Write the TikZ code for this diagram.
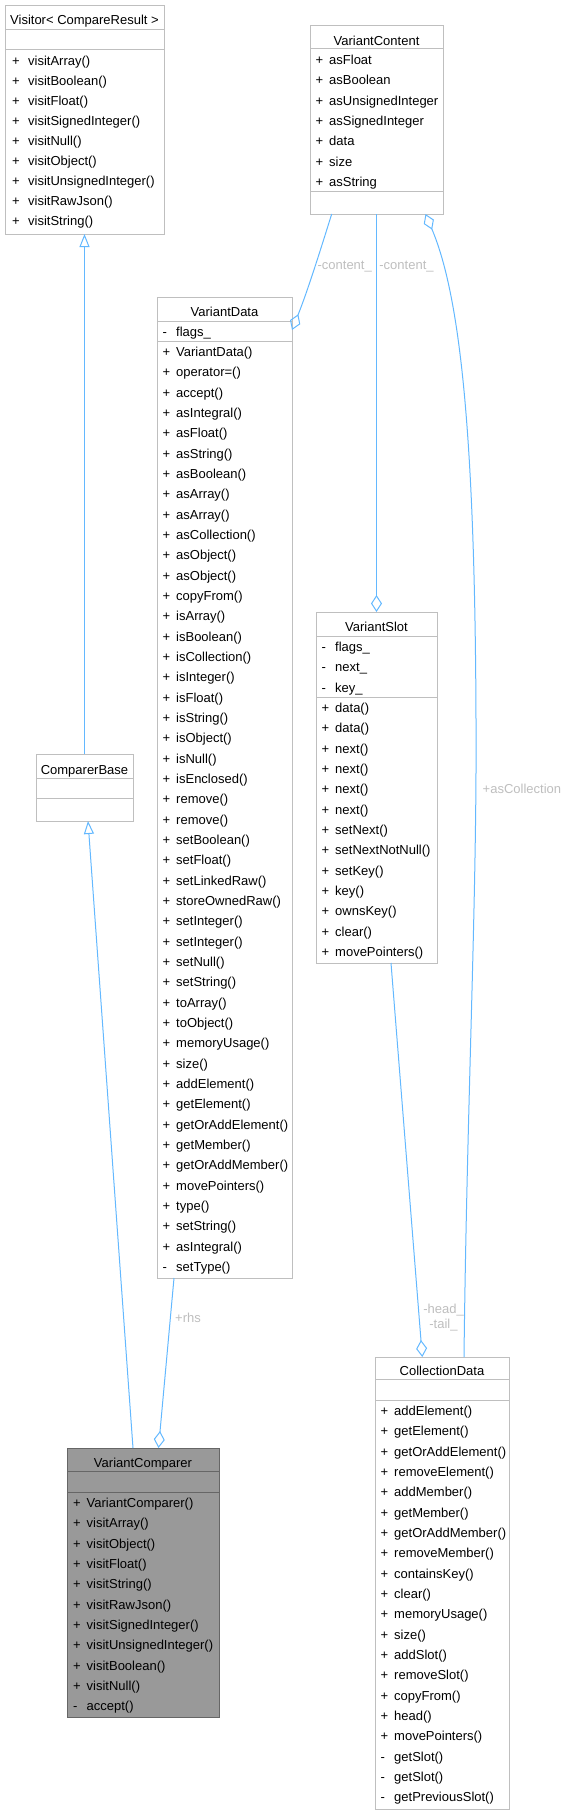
\documentclass[tikz,border=0pt]{standalone}
\usepackage{fontspec}
\setmainfont{Liberation Sans}
\usetikzlibrary{arrows.meta,calc}
\definecolor{boxline}{HTML}{BFBFBF}
\definecolor{edgecol}{HTML}{63B8FF}
\definecolor{lblcol}{HTML}{BEBEBE}
\definecolor{hifill}{HTML}{999999}
\definecolor{hiline}{HTML}{666666}
\begin{document}
\begin{tikzpicture}[x=1pt,y=-1pt,
  umlbox/.style={draw=boxline, line width=1pt, fill=white, inner sep=0pt, outer sep=0pt, anchor=north west},
  hibox/.style={umlbox, draw=hiline, fill=hifill},
  divider/.style={draw=boxline, line width=1pt},
  hidivider/.style={draw=hiline, line width=1pt},
  rowtxt/.style={inner sep=0pt, anchor=base west, font=\fontsize{13}{15}\selectfont},
  titletxt/.style={inner sep=0pt, anchor=base, font=\fontsize{13}{15}\selectfont},
  lbltxt/.style={inner sep=0pt, text=lblcol, font=\fontsize{13}{15}\selectfont, align=center},
  inh/.style={draw=edgecol, line width=1pt, -{Triangle[open, length=13pt, width=10pt]}},
  agg/.style={draw=edgecol, line width=1pt, -{Diamond[open, length=17pt, width=11pt]}},
]
\useasboundingbox (0,0) rectangle (565,1815);

% ---------- Visitor< CompareResult >
\node[umlbox, minimum width=159pt, minimum height=229pt] (visitor) at (5,5) {};
\draw[divider] (5,29) -- (164,29);
\draw[divider] (5,49) -- (164,49);
\node[titletxt] (visitor-t) at (84.5,24) {Visitor< CompareResult >};
\foreach \s/\t [count=\i from 0] in {+/visitArray(), +/visitBoolean(), +/visitFloat(), +/visitSignedInteger(), +/visitNull(), +/visitObject(), +/visitUnsignedInteger(), +/visitRawJson(), +/visitString()}
  \node[rowtxt] (vis\i) at (12,{65.5+20*\i}) {\makebox[16pt][l]{\s}\t};

% ---------- VariantContent
\node[umlbox, minimum width=133pt, minimum height=189pt] (vcont) at (310,25) {};
\draw[divider] (310,48.5) -- (443,48.5);
\draw[divider] (310,191) -- (443,191);
\node[titletxt] (vcont-t) at (376.5,45) {VariantContent};
\foreach \s/\t [count=\i from 0] in {+/asFloat, +/asBoolean, +/asUnsignedInteger, +/asSignedInteger, +/data, +/size, +/asString}
  \node[rowtxt] (vc\i) at (315.5,{64.5+20.33*\i}) {\makebox[13.5pt][l]{\s}\t};

% ---------- VariantData
\node[umlbox, minimum width=135pt, minimum height=981pt] (vdata) at (157,297) {};
\draw[divider] (157,321) -- (292,321);
\draw[divider] (157,341) -- (292,341);
\node[titletxt] (vdata-t) at (224.5,316) {VariantData};
\node[rowtxt] (vd-a0) at (162.5,336.5) {\makebox[13.5pt][l]{-}flags\_};
\foreach \s/\t [count=\i from 0] in {+/VariantData(), +/operator=(), +/accept(), +/asIntegral(), +/asFloat(), +/asString(), +/asBoolean(), +/asArray(), +/asArray(), +/asCollection(), +/asObject(), +/asObject(), +/copyFrom(), +/isArray(), +/isBoolean(), +/isCollection(), +/isInteger(), +/isFloat(), +/isString(), +/isObject(), +/isNull(), +/isEnclosed(), +/remove(), +/remove(), +/setBoolean(), +/setFloat(), +/setLinkedRaw(), +/storeOwnedRaw(), +/setInteger(), +/setInteger(), +/setNull(), +/setString(), +/toArray(), +/toObject(), +/memoryUsage(), +/size(), +/addElement(), +/getElement(), +/getOrAddElement(), +/getMember(), +/getOrAddMember(), +/movePointers(), +/type(), +/setString(), +/asIntegral(), -/setType()}
  \node[rowtxt] (vd\i) at (162.5,{356.5+20.33*\i}) {\makebox[13.5pt][l]{\s}\t};

% ---------- ComparerBase
\node[umlbox, minimum width=97pt, minimum height=67pt] (cbase) at (36,754) {};
\draw[divider] (36,778) -- (133,778);
\draw[divider] (36,798) -- (133,798);
\node[titletxt] (cbase-t) at (84.5,774) {ComparerBase};

% ---------- VariantSlot
\node[umlbox, minimum width=121pt, minimum height=351pt] (vslot) at (316,612) {};
\draw[divider] (316,636) -- (437,636);
\draw[divider] (316,697) -- (437,697);
\node[titletxt] (vslot-t) at (376.5,631) {VariantSlot};
\foreach \s/\t [count=\i from 0] in {-/flags\_, -/next\_, -/key\_}
  \node[rowtxt] (vsa\i) at (321.5,{651.5+20.33*\i}) {\makebox[13.5pt][l]{\s}\t};
\foreach \s/\t [count=\i from 0] in {+/data(), +/data(), +/next(), +/next(), +/next(), +/next(), +/setNext(), +/setNextNotNull(), +/setKey(), +/key(), +/ownsKey(), +/clear(), +/movePointers()}
  \node[rowtxt] (vs\i) at (321.5,{712.5+20.33*\i}) {\makebox[13.5pt][l]{\s}\t};

% ---------- CollectionData
\node[umlbox, minimum width=134pt, minimum height=452pt] (cdata) at (375,1357) {};
\draw[divider] (375,1379) -- (509,1379);
\draw[divider] (375,1400) -- (509,1400);
\node[titletxt] (cdata-t) at (442,1375.5) {CollectionData};
\foreach \s/\t [count=\i from 0] in {+/addElement(), +/getElement(), +/getOrAddElement(), +/removeElement(), +/addMember(), +/getMember(), +/getOrAddMember(), +/removeMember(), +/containsKey(), +/clear(), +/memoryUsage(), +/size(), +/addSlot(), +/removeSlot(), +/copyFrom(), +/head(), +/movePointers(), -/getSlot(), -/getSlot(), -/getPreviousSlot()}
  \node[rowtxt] (cd\i) at (380.5,{1415.5+20.33*\i}) {\makebox[13.5pt][l]{\s}\t};

% ---------- VariantComparer (highlighted)
\node[hibox, minimum width=152pt, minimum height=269pt] (vcomp) at (67,1448) {};
\draw[hidivider] (67,1471) -- (219,1471);
\draw[hidivider] (67,1492) -- (219,1492);
\node[titletxt] (vcomp-t) at (143,1467) {VariantComparer};
\foreach \s/\t [count=\i from 0] in {+/VariantComparer(), +/visitArray(), +/visitObject(), +/visitFloat(), +/visitString(), +/visitRawJson(), +/visitSignedInteger(), +/visitUnsignedInteger(), +/visitBoolean(), +/visitNull(), -/accept()}
  \node[rowtxt] (vcm\i) at (73,{1507.5+20.33*\i}) {\makebox[13.5pt][l]{\s}\t};

% ---------- connectors
\draw[inh] (cbase.north) -- (visitor.south);
\draw[inh] ($(vcomp.north west)+(66,0)$) -- ($(cbase.south west)+(52,0)$);
\draw[agg] ($(vdata.south west)+(17,0)$) -- ($(vcomp.north west)+(91.5,0)$);
\draw[agg] ($(vcont.south west)+(21.7,0)$) .. controls (322,245) and (308,290) .. ($(vdata.north east)+(0,33)$);
\draw[agg] (vcont.south) -- (vslot.north);
\draw[agg] ($(vslot.south west)+(75,0)$) -- ($(cdata.north west)+(47.3,0)$);
\draw[agg] ($(cdata.north west)+(89,0)$) .. controls (467,1100) and (477,900) .. (476,720) .. controls (475,450) and (462,300) .. ($(vcont.south west)+(115.5,0)$);

% ---------- labels
\node[lbltxt] (l-c1) at (344.7,267) {-content\_};
\node[lbltxt] (l-c2) at (406.5,267) {-content\_};
\node[lbltxt, anchor=west] (l-ac) at (482.5,789) {+asCollection};
\node[lbltxt] (l-ht) at (443.5,1318) {-head\_\\-tail\_};
\node[lbltxt] (l-rhs) at (188,1318) {+rhs};
\end{tikzpicture}
\end{document}
